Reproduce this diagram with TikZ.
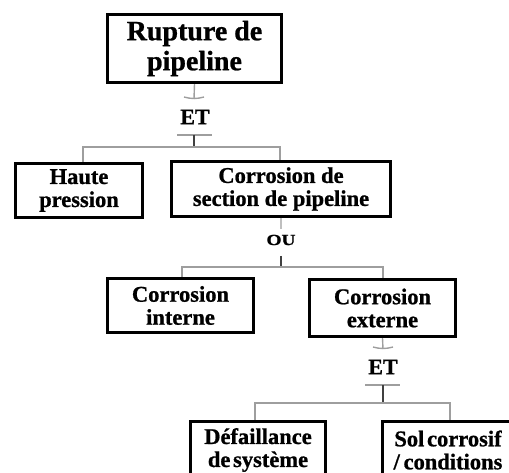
\documentclass[tikz,border=0pt]{standalone}
\usepackage{fontspec}
\setmainfont[BoldFeatures={FakeBold=0.9}]{Liberation Serif}
\begin{document}
\begin{tikzpicture}[x=1pt,y=-1pt,
  box/.style={draw=black, line width=3.4pt, align=center, inner sep=0pt,
    font=\bfseries\fontsize{22.5}{23}\selectfont},
  conn/.style={draw=black!38, line width=1.4pt},
  stem/.style={draw=black!75, line width=1.4pt},
  gatelabel/.style={font=\bfseries\fontsize{22}{22}\selectfont, inner sep=0pt},
  orlabel/.style={font=\bfseries\fontsize{15.5}{16}\selectfont, inner sep=0pt}]
\useasboundingbox (0,0) rectangle (509,473);
\clip (0,0) rectangle (509,473);

% event boxes
\node[box, minimum width=174pt, minimum height=68pt,
  font=\bfseries\fontsize{28}{30}\selectfont] (top) at (194.5,48.5) {Rupture de\\pipeline};
\node[box, minimum width=127pt, minimum height=54pt] (haute) at (79,190.5) {Haute\\pression};
\node[box, minimum width=219pt, minimum height=55pt] (section) at (281,189) {Corrosion de\\section de pipeline};
\node[box, minimum width=146pt, minimum height=54pt] (interne) at (180.5,305.5) {Corrosion\\interne};
\node[box, minimum width=146pt, minimum height=57pt] (externe) at (382.5,308) {Corrosion\\externe};
\node[box, minimum width=135pt, minimum height=57pt] (defail) at (258,450) {Défaillance\\de\hspace{0.12em}système};
\node[box, minimum width=131pt, minimum height=57pt] (sol) at (448,450) {Sol\hspace{0.12em}corrosif\\/\,conditions};

% gate labels
\node[gatelabel] (et1) at (195,117) {ET};
\node[orlabel, xscale=1.25] (ou) at (281,240) {OU};
\node[gatelabel] (et2) at (383,367) {ET};

% gate 1 (ET): top event -> Haute pression, Corrosion de section
\coordinate (g1cap) at (194,99);
\coordinate (g1bar) at (194,135);
\coordinate (g1fork) at (194,147);
\coordinate (g1l) at (83,147);
\coordinate (g1r) at (280,147);
\draw[conn] (top.south) -- (g1cap);
\draw[conn] ([xshift=-10pt,yshift=2pt]g1cap) .. controls ([xshift=-3pt]g1cap) and ([xshift=3pt]g1cap) .. ([xshift=10pt,yshift=2pt]g1cap);
\draw[conn] ([xshift=-17pt]g1bar) -- ([xshift=18pt]g1bar);
\draw[stem] (g1bar) -- (g1fork);
\draw[conn] (g1l |- haute.north) -- (g1l) -- (g1r) -- (g1r |- section.north);

% gate 2 (OU): Corrosion de section -> interne, externe
\coordinate (g2top) at (281,229);
\coordinate (g2stem) at (281,256);
\coordinate (g2fork) at (281,267);
\coordinate (g2l) at (182,267);
\coordinate (g2r) at (383,267);
\draw[conn, draw=black!25] (section.south) -- (g2top);
\draw[stem] (g2stem) -- (g2fork);
\draw[conn] (g2l |- interne.north) -- (g2l) -- (g2r) -- (g2r |- externe.north);

% gate 3 (ET): Corrosion externe -> Défaillance, Sol corrosif
\coordinate (g3cap) at (383,349);
\coordinate (g3bar) at (383,385);
\coordinate (g3fork) at (383,403);
\coordinate (g3l) at (255,403);
\coordinate (g3r) at (450,403);
\draw[conn] (externe.south) -- (g3cap);
\draw[conn] ([xshift=-10pt,yshift=2pt]g3cap) .. controls ([xshift=-3pt]g3cap) and ([xshift=3pt]g3cap) .. ([xshift=10pt,yshift=2pt]g3cap);
\draw[conn] ([xshift=-18pt]g3bar) -- ([xshift=17pt]g3bar);
\draw[stem] (g3bar) -- (g3fork);
\draw[conn] (g3l |- defail.north) -- (g3l) -- (g3r) -- (g3r |- sol.north);
\end{tikzpicture}
\end{document}
